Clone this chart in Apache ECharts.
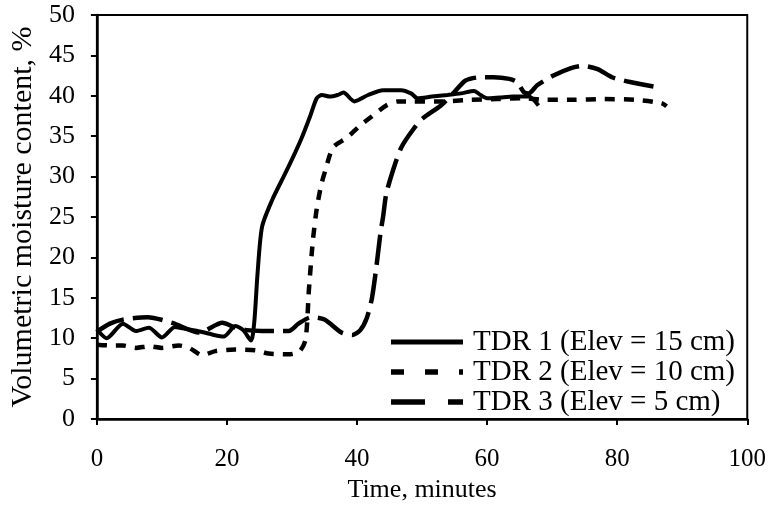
<!DOCTYPE html>
<html>
<head>
<meta charset="utf-8">
<script src="https://cdn.jsdelivr.net/npm/echarts@6/dist/echarts.min.js"></script>
<style>
html,body{margin:0;padding:0;background:#fff;}
#chart{width:769px;height:508px;}
</style>
</head>
<body>
<div id="chart"></div>
<script>
// ---- data ----
var seriesNames = ['TDR 1 (Elev = 15 cm)', 'TDR 2 (Elev = 10 cm)', 'TDR 3 (Elev = 5 cm)'];
var xTicks = [0, 20, 40, 60, 80, 100];
var yTicks = [0, 5, 10, 15, 20, 25, 30, 35, 40, 45, 50];

var tdr1Time = [0, 1.5, 4, 6, 8, 10, 12, 14, 16, 18, 19.5, 21.3, 22.5, 23.7, 24.2, 24.7, 25.4, 27, 28.9, 30.5, 31.5, 32.8, 33.8, 34.6, 35.8, 37, 37.9, 39.6, 41.7, 44, 46.8, 48.3, 49.3, 51.5, 53.9, 56, 58, 59, 60, 62, 64, 65.1, 66.4, 67.9];
var tdr1Values = [11.1, 10.0, 11.8, 10.9, 11.3, 10.1, 11.4, 11.1, 10.8, 10.4, 10.2, 11.5, 11.0, 9.7, 12, 18, 23.8, 27.2, 30.3, 33, 34.8, 37.5, 39.7, 40.1, 39.9, 40.1, 40.4, 39.3, 40.1, 40.7, 40.7, 40.3, 39.7, 39.9, 40.1, 40.3, 40.6, 40.1, 39.7, 39.8, 39.9, 39.9, 39.9, 38.8];

var tdr2Time = [0, 2, 4, 6, 8, 10, 12.6, 14.2, 16.2, 18.2, 21.3, 24.4, 26.4, 29.5, 31.2, 32.1, 32.6, 33.2, 33.8, 34.5, 35.1, 36.3, 38.4, 40.3, 42.2, 44.5, 46.3, 48.3, 52.9, 57.5, 61.5, 65.6, 68.7, 73.2, 78, 82.7, 86.8, 87.6];
var tdr2Values = [9.2, 9.1, 9.1, 8.8, 9.0, 8.8, 9.1, 8.8, 7.9, 8.4, 8.6, 8.5, 8.1, 8.0, 8.4, 9.9, 16, 22, 26, 29, 30.7, 33.6, 34.8, 36.2, 37.4, 38.8, 39.3, 39.3, 39.3, 39.5, 39.6, 39.7, 39.5, 39.5, 39.6, 39.5, 39.1, 38.7];

var tdr3Time = [0, 2, 4, 7.8, 11.6, 15.7, 19.3, 21.3, 23, 25.4, 29.5, 31, 33, 35, 37.6, 39.3, 40.5, 41.5, 42.3, 43, 43.6, 44, 44.5, 45.5, 46.8, 48.6, 50.1, 52.9, 55, 56.7, 59, 61, 63.4, 64.6, 65.6, 66.4, 67.7, 70.2, 72.8, 74.8, 77, 79.2, 82, 86];
var tdr3Values = [10.8, 11.8, 12.3, 12.6, 11.9, 10.7, 11.9, 11.3, 11.0, 10.9, 10.9, 11.8, 12.6, 12.3, 10.7, 10.4, 11.0, 12.5, 15, 19, 23, 25, 27.9, 30.7, 33.6, 35.8, 37.2, 38.8, 40.5, 41.9, 42.3, 42.3, 42.1, 41.7, 40.5, 40.3, 41.3, 42.5, 43.4, 43.7, 43.3, 42.3, 41.7, 41.1];

function zip(xs, ys) { return xs.map(function (x, i) { return [x, ys[i]]; }); }

var FONT = '"Liberation Serif", "Times New Roman", serif';
var chart = echarts.init(document.getElementById('chart'), null, {renderer: 'canvas'});

var lineStyles = [
  {color: '#000', width: 4, type: 'solid'},
  {color: '#000', width: 4.5, type: [10, 9]},
  {color: '#000', width: 4.5, type: [30, 9]}
];
var legendLineStyles = [
  {color: '#000', width: 5, type: 'solid'},
  {color: '#000', width: 5.5, type: [13, 21]},
  {color: '#000', width: 5.5, type: [34, 23]}
];
var seriesData = [zip(tdr1Time, tdr1Values), zip(tdr2Time, tdr2Values), zip(tdr3Time, tdr3Values)];

chart.setOption({
  animation: false,
  backgroundColor: '#fff',
  textStyle: {fontFamily: FONT, color: '#000'},
  grid: {left: 94, right: 21, top: 15, bottom: 82, show: true, borderColor: '#000', borderWidth: 2, containLabel: false},
  xAxis: {
    type: 'value', min: 0, max: 100, interval: 20,
    name: 'Time, minutes', nameLocation: 'middle', nameGap: 58,
    nameTextStyle: {fontFamily: FONT, fontSize: 26, color: '#000'},
    axisLine: {show: true, lineStyle: {color: '#000', width: 2.5}},
    axisTick: {show: true, length: 6, lineStyle: {color: '#000', width: 2}},
    axisLabel: {fontFamily: FONT, fontSize: 25, color: '#000', margin: 28,
      formatter: function (v) { return xTicks.indexOf(v) >= 0 ? String(v) : ''; }},
    splitLine: {show: false}
  },
  yAxis: {
    type: 'value', min: 0, max: 50, interval: 5,
    name: 'Volumetric moisture content, %', nameLocation: 'middle', nameGap: 56,
    nameTextStyle: {fontFamily: FONT, fontSize: 30, color: '#000'},
    axisLine: {show: true, lineStyle: {color: '#000', width: 2.5}},
    axisTick: {show: true, length: 6, lineStyle: {color: '#000', width: 2}},
    axisLabel: {fontFamily: FONT, fontSize: 26, color: '#000', margin: 22,
      formatter: function (v) { return yTicks.indexOf(v) >= 0 ? String(v) : ''; }},
    splitLine: {show: false}
  },
  legend: {
    show: true,
    orient: 'vertical', right: 34, top: 327, padding: 0, itemGap: 0,
    itemWidth: 72, itemHeight: 10,
    itemStyle: {opacity: 0},
    textStyle: {fontFamily: FONT, fontSize: 29, color: '#000', lineHeight: 30, padding: [0, 0, 0, 5]},
    data: seriesNames.map(function (n, i) {
      return {name: n, lineStyle: legendLineStyles[i]};
    })
  },
  series: seriesNames.map(function (n, i) {
    return {
      name: n, type: 'line', data: seriesData[i], showSymbol: false, symbol: 'none',
      smooth: 0.25, lineStyle: lineStyles[i], itemStyle: {color: '#000'}, z: 3 - i
    };
  })
});
</script>
</body>
</html>
